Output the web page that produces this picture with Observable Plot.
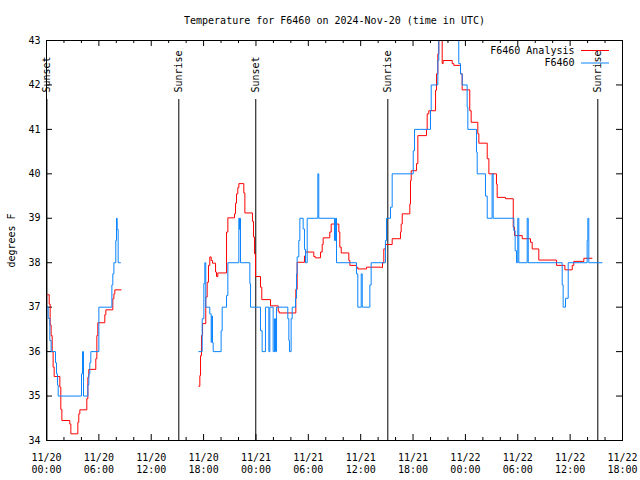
<!DOCTYPE html>
<html><head><meta charset="utf-8">
<script src="https://cdn.jsdelivr.net/npm/d3@7"></script>
<script src="https://cdn.jsdelivr.net/npm/@observablehq/plot@0.6"></script>
<style>
html,body{margin:0;padding:0;background:#fff;}
#chart svg{display:block;}
</style>
</head><body><div id="chart"></div>
<script>
const title = "Temperature for F6460 on 2024-Nov-20 (time in UTC)";
const yLabel = "degrees F";
const seriesNames = ["F6460 Analysis", "F6460"];
const seriesColors = ["#ff0000", "#0a84ff"];
const startTime = "2024-11-20T00:00Z";
const endTime = "2024-11-22T18:00Z";
const yTicks = [34, 35, 36, 37, 38, 39, 40, 41, 42, 43];
// sun events: hours after 11/20 00:00 UTC
const sunHours = [0.05, 15.16, 23.98, 39.11, 63.17];
const sunLabels = ["Sunset", "Sunrise", "Sunset", "Sunrise", "Sunrise"];

// [hours after 11/20 00:00 UTC, temperature °F]
const analysisSeg1 = [[0.08,37.28],[0.31,37.07],[0.42,36.6],[0.53,36.36],[0.65,36.0],[0.76,35.65],[0.88,35.44],[1.53,35.2],[1.64,34.7],[1.76,34.45],[2.67,34.37],[2.79,34.15],[3.59,34.41],[3.70,34.6],[3.82,34.69],[4.62,34.94],[4.74,35.42],[4.85,35.6],[5.65,35.84],[5.77,36.36],[5.88,36.65],[6.68,36.83],[6.80,36.94],[7.60,37.19],[7.72,37.3],[7.83,37.39],[8.56,37.39]];
const analysisSeg2 = [[17.45,35.22],[17.57,35.46],[17.65,35.91],[17.76,36.36],[17.88,36.63],[18.25,37.23],[18.41,37.56],[18.56,37.94],[18.71,38.13],[18.87,38.05],[19.02,37.99],[19.37,37.79],[19.48,37.69],[19.63,37.77],[20.63,38.69],[20.78,39.01],[21.54,39.1],[21.66,39.34],[21.77,39.55],[21.92,39.69],[22.04,39.78],[22.61,39.57],[22.73,39.12],[23.6,38.93],[23.72,38.58],[23.83,38.2],[23.95,37.69],[24.52,37.45],[24.67,37.17],[25.67,37.03],[26.55,36.91],[26.66,36.87],[28.57,37.4],[28.72,38.01],[29.56,38.15],[29.68,38.24],[30.63,38.14],[30.79,38.11],[31.4,38.24],[31.59,38.41],[31.7,38.56],[32.46,38.69],[32.62,38.87],[33.5,38.69],[33.61,38.35],[33.77,38.22],[34.64,38.05],[34.76,37.94],[35.52,37.9],[35.67,37.86],[36.67,37.9],[38.39,37.89],[38.5,38.0],[38.65,38.31],[38.84,38.41],[39.61,38.54],[40.56,38.69],[40.64,38.87],[40.76,39.1],[41.63,39.32],[41.71,39.85],[41.79,40.07],[42.4,40.23],[42.55,40.86],[43.54,41.0],[43.62,41.35],[43.81,41.42],[44.58,41.88],[44.69,42.25],[44.84,42.7],[44.95,43.1],[45.34,42.48],[45.45,42.55],[46.49,42.48],[46.67,42.44],[47.44,42.25],[47.63,41.89],[48.5,41.42],[48.66,41.16],[49.42,40.9],[49.54,40.69],[50.5,40.34],[50.69,40.0],[51.56,39.77],[51.64,39.47],[52.6,39.44],[53.48,38.8],[53.63,38.61],[54.51,38.54],[55.46,38.46],[55.65,38.31],[56.41,38.06],[58.44,37.94],[59.4,37.84],[60.24,37.94],[60.42,38.03],[61.57,38.1],[62.53,38.1]];
const obsSeg1 = [[0.08,37.0],[0.19,36.75],[0.38,36.25],[0.53,36.0],[1.03,35.75],[1.15,35.5],[1.26,35.25],[1.34,35.0],[4.01,35.5],[4.13,36.0],[4.24,35.0],[4.74,35.25],[4.85,35.5],[4.96,35.75],[5.08,36.0],[6.0,37.0],[7.49,37.5],[7.6,37.75],[7.72,38.0],[7.94,38.5],[8.02,39.0],[8.1,38.75],[8.21,38.0],[8.48,38.0]];
const obsSeg2 = [[17.45,36.0],[17.84,36.74],[18.03,37.53],[18.14,38.0],[18.25,37.0],[18.71,36.85],[18.87,36.21],[18.94,36.8],[19.02,36.2],[19.1,36.0],[20.01,36.47],[20.13,37.0],[20.63,37.26],[20.78,38.0],[22.04,39.0],[22.12,38.75],[22.15,39.0],[22.23,38.0],[23.3,37.53],[23.38,37.0],[24.52,36.47],[24.71,36.0],[25.09,37.0],[25.48,36.0],[25.59,37.0],[25.97,36.0],[26.13,36.74],[26.24,36.0],[26.36,37.0],[27.65,36.74],[27.77,36.25],[27.84,36.0],[28.03,36.74],[28.15,37.0],[28.53,37.2],[28.65,37.75],[28.72,38.13],[28.91,38.5],[29.03,39.0],[29.41,38.76],[29.56,38.3],[29.68,38.0],[29.87,39.0],[31.09,40.0],[31.2,39.0],[33.0,38.5],[33.12,39.0],[33.23,38.0],[35.52,37.75],[35.67,37.0],[36.06,37.75],[36.18,37.0],[37.05,37.5],[37.2,38.0],[38.84,38.5],[38.96,39.0],[39.42,39.25],[39.61,40.0],[42.02,40.52],[42.17,41.0],[44.0,41.42],[44.08,42.0],[44.84,42.55],[44.95,44.0],[47.24,42.48],[47.44,42.25],[47.63,42.0],[48.2,41.5],[48.28,41.0],[49.27,40.49],[49.35,40.0],[50.3,39.5],[50.5,39.0],[51.06,40.0],[51.18,39.0],[53.55,38.72],[53.7,38.27],[53.86,38.0],[54.0,39.0],[54.12,38.0],[55.08,39.0],[55.2,38.0],[59.09,37.5],[59.2,37.0],[59.47,37.2],[59.78,38.0],[61.95,38.5],[62.03,39.0],[62.14,38.0],[63.67,38.0]];

const t0 = Date.parse(startTime);
const toDate = h => new Date(t0 + h * 3600000);
const toPts = seg => seg.map(([h, v]) => ({t: toDate(h), v}));
const sunEvents = sunHours.map((h, i) => ({t: toDate(h), label: sunLabels[i]}));
const x0 = new Date(startTime), x1 = new Date(endTime);
const majorTicks = d3.utcHour.every(6).range(x0, new Date(+x1 + 1));
const minorTicks = d3.utcHour.every(2).range(x0, new Date(+x1 + 1)).filter(d => d.getUTCHours() % 6 !== 0);

const font = "DejaVu Sans Mono";
const lineOpts = (color) => ({x: "t", y: "v", stroke: color, strokeWidth: 1, curve: "step-after", clip: true});

const chart = Plot.plot({
  width: 640, height: 480,
  marginLeft: 46, marginRight: 18, marginTop: 40, marginBottom: 40,
  style: {fontFamily: font, fontSize: "10px", background: "#fff", color: "#000", overflow: "visible"},
  x: {type: "utc", domain: [x0, x1]},
  y: {domain: [34, 43]},
  marks: [
    Plot.axisX({ticks: majorTicks, tickFormat: d3.utcFormat("%m/%d\n%H:%M"), tickSize: 0, tickPadding: 12, lineHeight: 1.17, label: null, fill: "#000"}),
    Plot.axisY({ticks: yTicks, tickFormat: d => String(d), tickSize: 0, tickPadding: 6, label: null, fill: "#000"}),
    Plot.ruleX(majorTicks, {insetTop: 394, stroke: "#000"}),
    Plot.ruleX(majorTicks, {insetBottom: 394, stroke: "#000"}),
    Plot.ruleX(minorTicks, {insetTop: 397, stroke: "#000"}),
    Plot.ruleX(minorTicks, {insetBottom: 397, stroke: "#000"}),
    Plot.ruleY(yTicks, {insetRight: 570, stroke: "#000"}),
    Plot.ruleY(yTicks, {insetLeft: 570, stroke: "#000"}),
    Plot.ruleX(sunEvents, {x: "t", insetTop: 59, stroke: "#000", strokeWidth: 1}),
    Plot.text(sunEvents, {x: "t", text: "label", frameAnchor: "top", dy: 52, rotate: -90, textAnchor: "start", lineAnchor: "middle", fill: "#000"}),
    Plot.line(toPts(analysisSeg1), lineOpts(seriesColors[0])),
    Plot.line(toPts(analysisSeg2), lineOpts(seriesColors[0])),
    Plot.line(toPts(obsSeg1), lineOpts(seriesColors[1])),
    Plot.line(toPts(obsSeg2), lineOpts(seriesColors[1])),
    Plot.frame({stroke: "#000"}),
    Plot.text([seriesNames[0]], {frameAnchor: "top-right", dx: -48, dy: 10, textAnchor: "end", lineAnchor: "middle", fill: "#000"}),
    Plot.text([seriesNames[1]], {frameAnchor: "top-right", dx: -48, dy: 22.5, textAnchor: "end", lineAnchor: "middle", fill: "#000"}),
    Plot.ruleY([43], {dy: 10, insetLeft: 535, insetRight: 13, stroke: seriesColors[0]}),
    Plot.ruleY([43], {dy: 22.5, insetLeft: 535, insetRight: 13, stroke: seriesColors[1]}),
    Plot.text([title], {frameAnchor: "top", dy: -20, lineAnchor: "middle", fill: "#000"}),
    Plot.text([yLabel], {frameAnchor: "left", dx: -35, rotate: -90, textAnchor: "middle", lineAnchor: "middle", fill: "#000"})
  ]
});
document.getElementById("chart").appendChild(chart);
</script>
</body></html>
